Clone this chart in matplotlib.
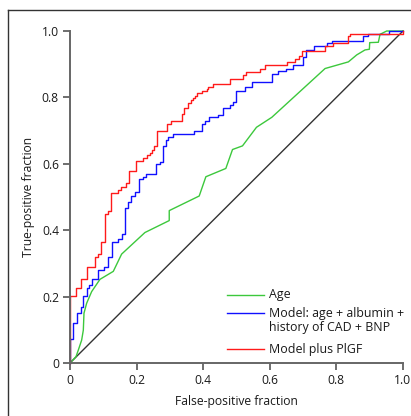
from matplotlib import pyplot as plt
from matplotlib.lines import Line2D

plt.rcParams['font.family'] = ['Open Sans', 'DejaVu Sans']

# ROC curves
# step curves: x where the curve jumps, y after the jump
red_fpr = [0, 0, 0.018, 0.033, 0.05, 0.075, 0.083, 0.092, 0.104, 0.113, 0.122, 0.145, 0.153,
           0.168, 0.177, 0.198, 0.218, 0.232, 0.240, 0.247, 0.253, 0.260, 0.290, 0.303, 0.335,
           0.342, 0.355, 0.362, 0.370, 0.375, 0.382, 0.395, 0.410, 0.415, 0.428, 0.480, 0.520,
           0.528, 0.571, 0.586, 0.653, 0.676, 0.688, 0.696, 0.766, 0.790, 0.836, 0.840, 1.0]
red_tpr = [0, 0.203, 0.225, 0.252, 0.288, 0.318, 0.327, 0.364, 0.449, 0.457, 0.511, 0.521, 0.531,
           0.541, 0.578, 0.608, 0.618, 0.628, 0.634, 0.642, 0.654, 0.700, 0.719, 0.730, 0.749,
           0.767, 0.784, 0.792, 0.799, 0.804, 0.814, 0.820, 0.824, 0.832, 0.840, 0.854, 0.867,
           0.877, 0.887, 0.898, 0.906, 0.915, 0.925, 0.941, 0.956, 0.964, 0.985, 0.990, 1.0]

blue_fpr = [0, 0, 0.008, 0.020, 0.033, 0.040, 0.050, 0.058, 0.065, 0.085, 0.102, 0.113, 0.125,
            0.145, 0.155, 0.165, 0.173, 0.183, 0.195, 0.208, 0.218, 0.228, 0.258, 0.270, 0.280,
            0.288, 0.295, 0.310, 0.373, 0.395, 0.405, 0.418, 0.445, 0.458, 0.480, 0.488, 0.498,
            0.526, 0.548, 0.606, 0.626, 0.649, 0.669, 0.700, 0.709, 0.734, 0.771, 0.786, 0.879,
            0.896, 0.959, 1.0]
blue_tpr = [0, 0.071, 0.119, 0.150, 0.168, 0.203, 0.225, 0.235, 0.252, 0.280, 0.288, 0.318, 0.364,
            0.372, 0.390, 0.466, 0.486, 0.503, 0.514, 0.553, 0.561, 0.569, 0.598, 0.606, 0.654,
            0.672, 0.680, 0.690, 0.700, 0.720, 0.730, 0.740, 0.747, 0.767, 0.777, 0.787, 0.819,
            0.832, 0.847, 0.870, 0.880, 0.887, 0.898, 0.923, 0.943, 0.956, 0.963, 0.971, 0.985,
            0.990, 1.0, 1.0]

# age curve is drawn as a plain line
green_fpr = [0, 0.018, 0.025, 0.035, 0.040, 0.042, 0.050, 0.065, 0.090, 0.130, 0.155, 0.225,
             0.298, 0.298, 0.388, 0.408, 0.468, 0.488, 0.518, 0.560, 0.606, 0.766, 0.836, 0.861,
             0.886, 0.899, 0.900, 0.926, 0.931, 0.951, 1.0]
green_tpr = [0, 0.019, 0.039, 0.069, 0.099, 0.150, 0.180, 0.215, 0.252, 0.276, 0.328, 0.393,
             0.429, 0.459, 0.503, 0.561, 0.586, 0.643, 0.654, 0.710, 0.740, 0.887, 0.907, 0.928,
             0.943, 0.945, 0.965, 0.966, 0.990, 1.0, 1.0]

labels = ['Age', 'Model: age + albumin +\nhistory of CAD + BNP', 'Model plus PlGF']
colors = ['#3cc83c', '#1010ff', '#ff1a1a']
ticks = [0, 0.2, 0.4, 0.6, 0.8, 1.0]
tick_labels = ['0', '0.2', '0.4', '0.6', '0.8', '1.0']

fig = plt.figure(figsize=(4.11, 4.16), dpi=100)
ax = fig.add_axes([70/411, 53/416, 333/411, 332/416])

ax.plot([0, 1], [0, 1], color='#333333', lw=1.0, clip_on=False)
ax.plot(green_fpr, green_tpr, color=colors[0], lw=1.0, clip_on=False)
ax.plot(blue_fpr, blue_tpr, color=colors[1], lw=1.0, drawstyle='steps-post', clip_on=False)
ax.plot(red_fpr, red_tpr, color=colors[2], lw=1.0, drawstyle='steps-post', clip_on=False)

ax.set_xlim(0, 1)
ax.set_ylim(0, 1)
ax.set_xticks(ticks)
ax.set_xticklabels(tick_labels)
ax.set_yticks(ticks)
ax.set_yticklabels(tick_labels)
ax.tick_params(direction='out', length=5, width=1.2, color='#555555',
               labelsize=8.7, labelcolor='#1a1a1a', pad=3)
for s in ['top', 'right']:
    ax.spines[s].set_visible(False)
for s in ['left', 'bottom']:
    ax.spines[s].set_color('#666666')
    ax.spines[s].set_linewidth(1.4)

ax.set_xlabel('False-positive fraction', fontsize=8.7, color='#1a1a1a', labelpad=6)
ax.set_ylabel('True-positive fraction', fontsize=8.7, color='#1a1a1a', labelpad=5)

# hand made legend
leg_y = [0.206, 0.150, 0.042]
text_y = [0.206, 0.128, 0.042]
for c, lab, ly, ty in zip(colors, labels, leg_y, text_y):
    ax.plot([0.472, 0.583], [ly, ly], color=c, lw=1.0, transform=ax.transAxes)
    ax.text(0.598, ty, lab, transform=ax.transAxes, fontsize=8.9, color='#1a1a1a',
            va='center', ha='left', linespacing=1.12)

# frame around the figure
fig.add_artist(Line2D([8/411, 1], [1 - 10/416, 1 - 10/416], color='#333333', lw=1.0,
                      transform=fig.transFigure))
fig.add_artist(Line2D([8/411, 8/411], [0, 1 - 10/416], color='#333333', lw=1.0,
                      transform=fig.transFigure))

plt.savefig('out.png', dpi=100)
